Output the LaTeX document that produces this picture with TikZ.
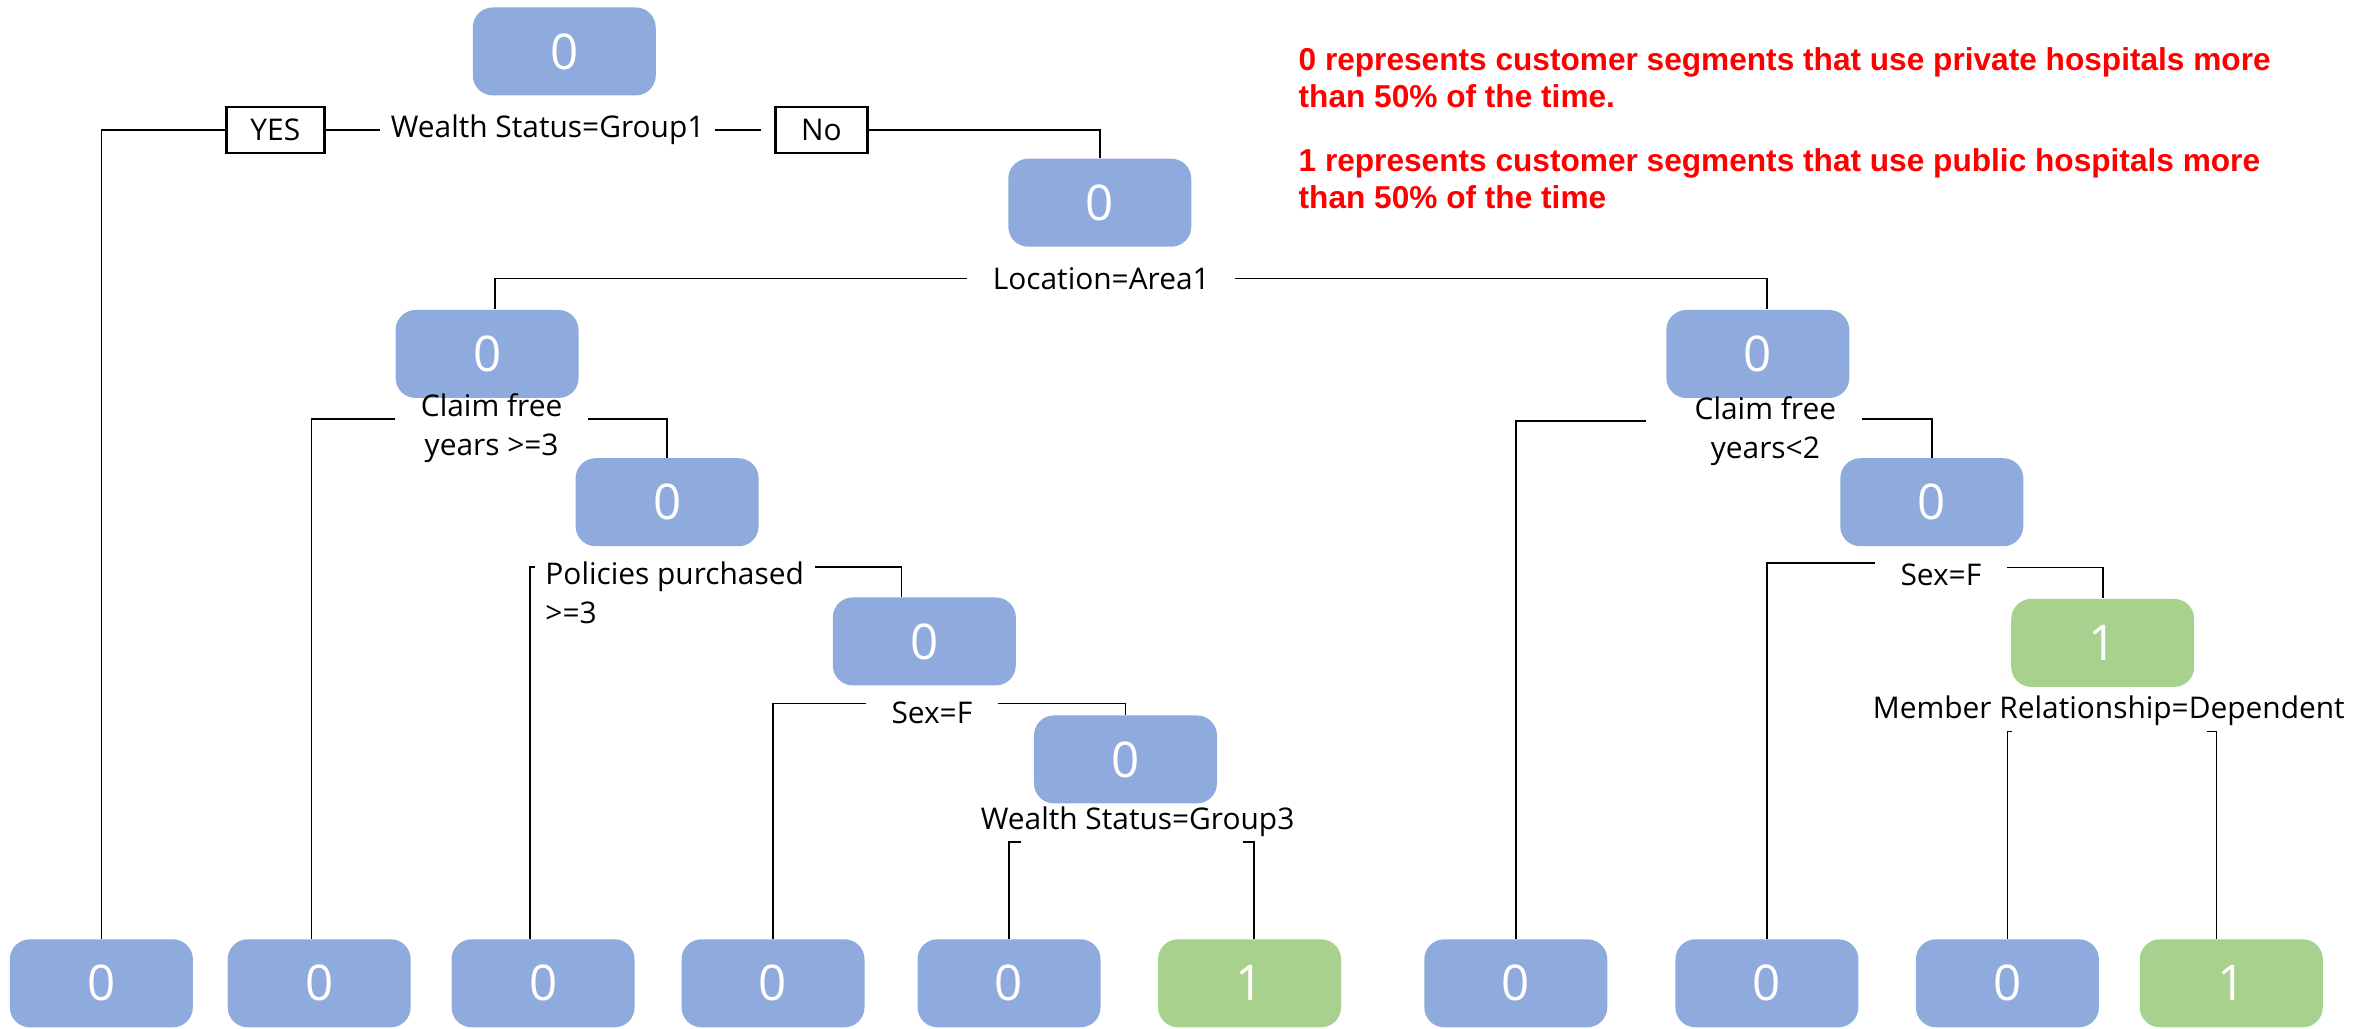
\documentclass[tikz,border=0pt]{standalone}
\usepackage{fontspec}
\setmainfont{Open Sans}
\newfontfamily\legendfont{Liberation Sans}
\usetikzlibrary{calc}

\definecolor{nodeblue}{HTML}{8FAADC}
\definecolor{nodegreen}{HTML}{A9D18E}

\tikzset{
  zerobox/.style={rectangle, rounded corners=2mm, fill=nodeblue, text=white,
    minimum width=18.3mm, minimum height=8.8mm, inner sep=0pt,
    font=\fontsize{14}{14}\selectfont},
  onebox/.style={zerobox, fill=nodegreen},
  cond/.style={inner xsep=2.5mm, inner ysep=0.5mm, align=center,
    font=\fontsize{8.5}{11}\selectfont},
  tagbox/.style={draw, line width=0.8pt, minimum height=4.6mm, inner sep=0pt,
    font=\fontsize{8.5}{10}\selectfont},
  edgeline/.style={line width=0.45pt},
  legend/.style={text=red, align=left, inner sep=0pt,
    font=\legendfont\bfseries\fontsize{9}{10.5}\selectfont}
}

\begin{document}
\begin{tikzpicture}[x=0.15128mm, y=-0.15128mm]
  \useasboundingbox (0,0) rectangle (1568,680);

  % inner nodes
  \node[zerobox] (root) at (373,34) {0};
  \node[zerobox] (n1) at (727,134) {0};
  \node[zerobox] (l1) at (322,234) {0};
  \node[zerobox] (l2) at (441,332) {0};
  \node[zerobox] (l3) at (611,424) {0};
  \node[zerobox] (l4) at (744,502) {0};
  \node[zerobox] (r1) at (1162,234) {0};
  \node[zerobox] (r2) at (1277,332) {0};
  \node[onebox] (r3) at (1390,425) {1};

  % leaves
  \node[zerobox] (leaf1) at (67,650) {0};
  \node[zerobox] (leaf2) at (211,650) {0};
  \node[zerobox] (leaf3) at (359,650) {0};
  \node[zerobox] (leaf4) at (511,650) {0};
  \node[zerobox] (leaf5) at (667,650) {0};
  \node[onebox] (leaf6) at (826,650) {1};
  \node[zerobox] (leaf7) at (1002,650) {0};
  \node[zerobox] (leaf8) at (1168,650) {0};
  \node[zerobox] (leaf9) at (1327,650) {0};
  \node[onebox] (leaf10) at (1475,650) {1};

  % split conditions
  \node[cond, inner xsep=1mm] (wsg1) at (362,86) {Wealth Status=Group1};
  \node[tagbox, minimum width=9.8mm] (yes) at (182,86) {YES};
  \node[tagbox, minimum width=9.2mm] (no) at (543,86) {No};
  \node[cond] (loc) at (728,184) {Location=Area1};
  \node[cond] (cf3) at (325,283) {Claim free\\years >=3};
  \node[cond, align=left, inner xsep=1mm] (pp3) at (446,392) {Policies purchased\\>=3};
  \node[cond] (sexl) at (616,471) {Sex=F};
  \node[cond] (wsg3) at (752,543) {Wealth Status=Group3};
  \node[cond] (cf2) at (1167,285) {Claim free\\years<2};
  \node[cond] (sexr) at (1283,380) {Sex=F};
  \node[cond] (mrd) at (1394,470) {Member Relationship=Dependent};

  % branches
  \draw[edgeline] (yes.west) -| (leaf1.north);
  \draw[edgeline] (yes.east) -- (wsg1.west);
  \draw[edgeline, shorten >=1.3mm] (wsg1.east) -- (no.west);
  \draw[edgeline] (no.east) -| (n1.north);
  \draw[edgeline] (loc.west) -| ([xshift=0.8mm]l1.north);
  \draw[edgeline] (loc.east) -| ([xshift=0.9mm]r1.north);
  \draw[edgeline] ([yshift=0.9mm]cf3.west) -| ([xshift=-0.75mm]leaf2.north);
  \draw[edgeline] ([yshift=0.9mm]cf3.east) -| (l2.north);
  \draw[edgeline] ([yshift=2.6mm]pp3.west) -| ([xshift=-1.3mm]leaf3.north);
  \draw[edgeline] ([yshift=2.6mm]pp3.east) -| ([xshift=-2.3mm]l3.north);
  \draw[edgeline] ([yshift=0.9mm]sexl.west) -| (leaf4.north);
  \draw[edgeline] ([yshift=0.9mm]sexl.east) -| (l4.north);
  \draw[edgeline] ($(wsg3.south)+(-77,0)$) -| (leaf5.north);
  \draw[edgeline] ($(wsg3.south)+(70,0)$) -| ([xshift=0.45mm]leaf6.north);
  \draw[edgeline] ([xshift=-2.3mm, yshift=1mm]cf2.west) -| (leaf7.north);
  \draw[edgeline] ([yshift=1.2mm]cf2.east) -| (r2.north);
  \draw[edgeline] ([yshift=1.2mm]sexr.west) -| (leaf8.north);
  \draw[edgeline] ([yshift=0.75mm]sexr.east) -| (r3.north);
  \draw[edgeline] ($(mrd.south)+(-64,0)$) -| (leaf9.north);
  \draw[edgeline] ($(mrd.south)+(65,0)$) -| ([xshift=-1.5mm]leaf10.north);

  % key
  \node[legend, anchor=north west] (key0) at (858,31) {0 represents customer segments that use private hospitals more\\than 50\% of the time.};
  \node[legend, anchor=north west] (key1) at (858,98) {1 represents customer segments that use public hospitals more\\than 50\% of the time};
\end{tikzpicture}
\end{document}
